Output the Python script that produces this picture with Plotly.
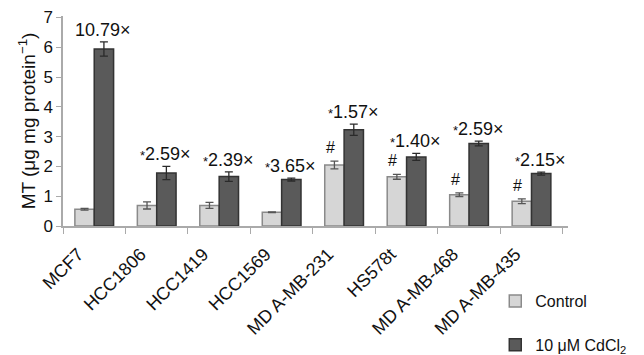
import plotly.graph_objects as go

categories = ["MCF7", "HCC1806", "HCC1419", "HCC1569", "MD A-MB-231", "HS578t", "MD A-MB-468", "MD A-MB-435"]
control = [0.56, 0.69, 0.69, 0.46, 2.05, 1.65, 1.05, 0.83]
control_err = [0.03, 0.12, 0.10, 0.01, 0.13, 0.08, 0.06, 0.08]
cd = [5.94, 1.78, 1.66, 1.56, 3.23, 2.32, 2.77, 1.76]
cd_err = [0.24, 0.22, 0.16, 0.05, 0.19, 0.12, 0.08, 0.05]
fold = ["10.79×", "2.59×", "2.39×", "3.65×", "1.57×", "1.40×", "2.59×", "2.15×"]
star = [False, True, True, True, True, True, True, True]
hash_mark = [False, False, False, False, True, True, True, True]

FONT = "Liberation Sans, Arial, sans-serif"

fig = go.Figure()
fig.add_trace(go.Bar(
    x=categories, y=control, name="Control", legendgroup="a",
    marker=dict(color="#d6d6d6", line=dict(color="#8a8a8a", width=1.5)),
    error_y=dict(type="data", array=control_err, color="#555555", thickness=1.3, width=4),
))
fig.add_trace(go.Bar(
    x=categories, y=cd, name="10 μM CdCl<sub>2</sub>", legendgroup="b",
    marker=dict(color="#5a5a5a", line=dict(color="#333333", width=1.5)),
    error_y=dict(type="data", array=cd_err, color="#2a2a2a", thickness=1.3, width=4),
))

for i, c in enumerate(categories):
    txt = ("<span style='font-size:13px'>*</span>" if star[i] else "") + fold[i]
    fig.add_annotation(x=c, y=cd[i] + cd_err[i], text=txt, showarrow=False,
                       xshift=9, yanchor="bottom", font=dict(family=FONT, size=18, color="#111"))
    if hash_mark[i]:
        fig.add_annotation(x=c, y=control[i] + control_err[i] + 0.1, text="#", showarrow=False,
                           xshift=-14, yanchor="bottom", font=dict(family=FONT, size=16, color="#111"))

# the page body adds an 8px offset; the figure is sized to compensate
fig.update_layout(
    width=636, height=347,
    margin=dict(l=55, r=76, t=8, b=129, autoexpand=False),
    paper_bgcolor="white", plot_bgcolor="white",
    bargap=0.38, bargroupgap=0.0, barmode="group",
    font=dict(family=FONT, color="#111"),
    legend=dict(x=0.856, y=-0.648, xanchor="left", yanchor="bottom",
                font=dict(family=FONT, size=16), tracegroupgap=20,
                traceorder="grouped", bgcolor="rgba(0,0,0,0)"),
    showlegend=True,
)
fig.update_xaxes(
    automargin=False,
    showline=True, linecolor="#aaaaaa", linewidth=1.5,
    ticks="outside", tickson="boundaries", ticklen=6, tickcolor="#aaaaaa",
    tickangle=-45, tickfont=dict(family=FONT, size=18),
    ticklabelshift=-16, ticklabelstandoff=9,
    showgrid=False,
)
fig.update_yaxes(
    automargin=False,
    range=[0, 7.05], dtick=1, tick0=0,
    showline=True, linecolor="#aaaaaa", linewidth=1.5,
    ticks="outside", ticklen=5, tickcolor="#aaaaaa",
    tickfont=dict(family=FONT, size=17),
    showgrid=False, zeroline=False,
    title=dict(text="MT (μg mg protein<sup>−1</sup>)", font=dict(family=FONT, size=19), standoff=3),
)

fig.write_html("out.html")
